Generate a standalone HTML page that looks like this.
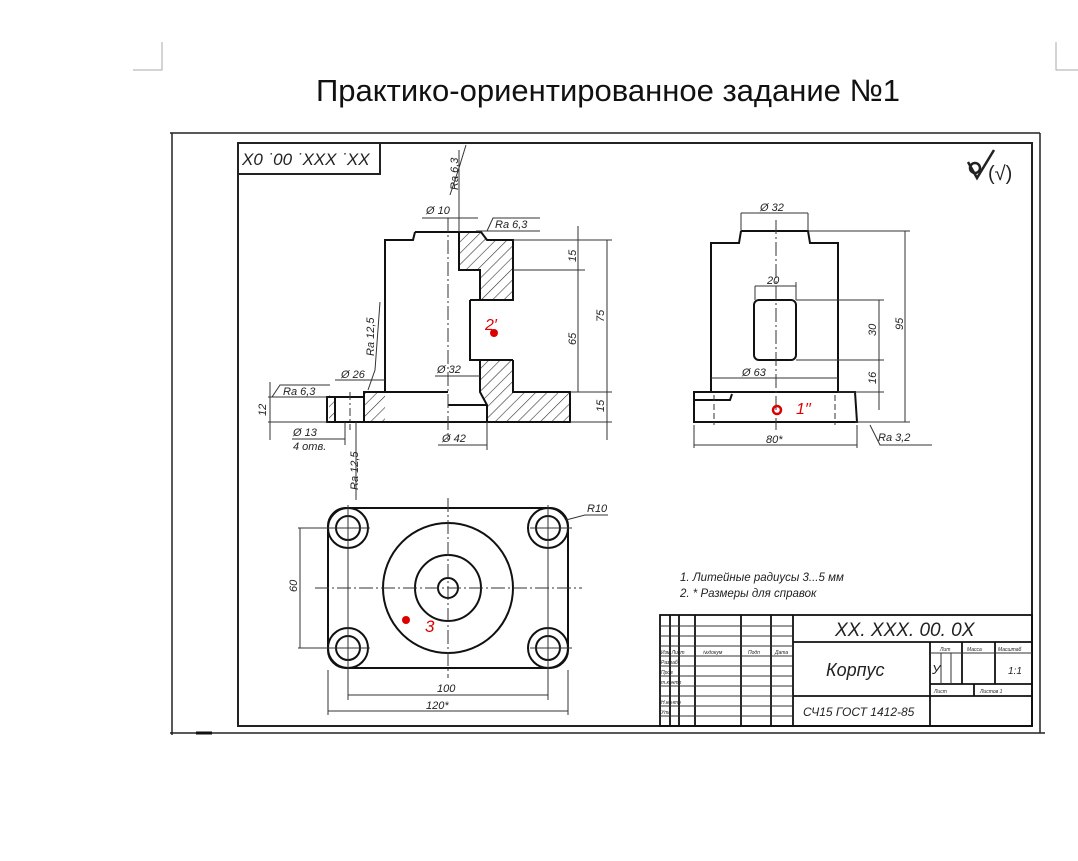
<!DOCTYPE html>
<html><head><meta charset="utf-8"><style>
html,body{margin:0;padding:0;background:#fff;}
svg{display:block;}
text{font-family:"Liberation Sans",sans-serif;font-style:italic;fill:#222;}
</style></head><body>
<svg width="1078" height="861" viewBox="0 0 1078 861" xmlns="http://www.w3.org/2000/svg">
<polyline points="133,70 162,70 162,42" fill="none" stroke="#aaa" stroke-width="1"/>
<polyline points="1056,42 1056,70 1078,70" fill="none" stroke="#aaa" stroke-width="1"/>
<text x="608" y="101" text-anchor="middle" style="font-style:normal;font-size:31px;fill:#111">Практико-ориентированное задание №1</text>

<g fill="none" stroke="#222">
<line x1="170" y1="133" x2="1040" y2="133" stroke-width="1.5"/>
<line x1="172" y1="133" x2="172" y2="735" stroke-width="1.5"/>
<line x1="170" y1="733" x2="1045" y2="733" stroke-width="1.5"/>
<line x1="1040" y1="133" x2="1040" y2="733" stroke-width="1.5"/>
<rect x="238" y="143" width="794" height="583" stroke-width="2"/>
<rect x="238" y="143" width="142" height="31" stroke-width="2"/>
</g>
<text x="242" y="165" style="font-size:17px">X0 ˙00 ˙XXX ˙XX</text>

<g fill="none" stroke="#222" stroke-width="2.5">
<circle cx="975" cy="168" r="5"/><polyline points="968,162 977,178 994,150"/>
</g>
<text x="988" y="180" style="font-size:20px;font-style:normal">(√)</text>

<defs>
<pattern id="h" width="8" height="8" patternUnits="userSpaceOnUse" patternTransform="rotate(45)">
<line x1="0" y1="0" x2="0" y2="8" stroke="#333" stroke-width="1.2"/>
</pattern>
</defs>
<g stroke="none" fill="url(#h)">
<polygon points="459,232 481,232 487,240 513,240 513,300 480,300 480,270 459,270"/>
<polygon points="480,360 513,360 513,392 570,392 570,422 487,422 487,405 480,392"/>
<polygon points="364,392 385,392 385,422 364,422"/>
<rect x="329" y="395" width="6" height="27"/>
</g>
<g fill="none" stroke="#111" stroke-width="2">
<polyline points="415,232 481,232 487,240 513,240 513,300 480,300 480,270 459,270 459,232"/>
<polyline points="415,232 413,240 385,240 385,392 364,392 364,422"/>
<polyline points="470,300 470,360 480,360 480,392 487,405 487,422"/>
<polyline points="513,360 513,392 570,392 570,422 327,422 327,397 364,397"/>
<line x1="385" y1="392" x2="448" y2="392"/>
<line x1="448" y1="405" x2="487" y2="405"/>
<line x1="470" y1="300" x2="513" y2="300"/>
<line x1="470" y1="360" x2="513" y2="360"/>
<line x1="335" y1="397" x2="335" y2="422"/>
</g>
<g stroke="#333" stroke-width="1" fill="none">
<line x1="448" y1="218" x2="448" y2="440" stroke-dasharray="14,3,2,3"/>
<line x1="350" y1="392" x2="350" y2="430" stroke-dasharray="8,3,2,3"/>
<line x1="513" y1="240" x2="612" y2="240"/><line x1="513" y1="270" x2="585" y2="270"/>
<line x1="570" y1="392" x2="612" y2="392"/><line x1="570" y1="422" x2="612" y2="422"/>
<line x1="578" y1="226" x2="578" y2="392"/><line x1="607" y1="240" x2="607" y2="440"/>
<line x1="422" y1="218" x2="478" y2="218"/><line x1="459" y1="150" x2="459" y2="232"/>
<line x1="476" y1="231" x2="540" y2="231"/>
<line x1="335" y1="380" x2="385" y2="380"/>
<line x1="435" y1="376" x2="480" y2="376"/>
<line x1="438" y1="445" x2="487" y2="445"/><line x1="487" y1="422" x2="487" y2="450"/>
<line x1="268" y1="397" x2="327" y2="397"/><line x1="268" y1="422" x2="327" y2="422"/>
<line x1="270" y1="382" x2="270" y2="440"/>
<line x1="292" y1="439" x2="345" y2="439"/><line x1="345" y1="422" x2="345" y2="445"/><line x1="356" y1="422" x2="356" y2="500"/>
<polyline points="368,390 375,370 380,302"/>
<polyline points="450,195 459,168 466,145"/>
<polyline points="487,231 493,218 540,218"/>
<polyline points="272,397 280,385 330,385"/>
</g>
<g style="font-size:11px">
<text x="426" y="214">Ø 10</text>
<text x="495" y="228">Ra 6,3</text>
<text x="283" y="395">Ra 6,3</text>
<text x="341" y="378">Ø 26</text>
<text x="437" y="373">Ø 32</text>
<text x="442" y="442">Ø 42</text>
<text x="293" y="436">Ø 13</text>
<text x="293" y="450">4 отв.</text>
<text transform="translate(458,190) rotate(-90)">Ra 6,3</text>
<text transform="translate(374,356) rotate(-90)">Ra 12,5</text>
<text transform="translate(358,490) rotate(-90)">Ra 12,5</text>
<text transform="translate(576,262) rotate(-90)">15</text>
<text transform="translate(576,345) rotate(-90)">65</text>
<text transform="translate(604,322) rotate(-90)">75</text>
<text transform="translate(604,412) rotate(-90)">15</text>
<text transform="translate(266,416) rotate(-90)">12</text>
</g>
<circle cx="494" cy="333" r="4" fill="#d00"/>
<text x="485" y="330" style="fill:#d00;font-size:16px">2′</text>

<g fill="none" stroke="#111" stroke-width="2">
<polyline points="741,231 808,231 810,243 838,243 838,392 855,392 857,422 694,422 694,392 711,392 711,243 739,243 741,231"/>
<line x1="711" y1="392" x2="838" y2="392"/>
<rect x="754" y="300" width="42" height="60" rx="5"/>
<polyline points="694,400 730,400 732,394"/>
</g>
<g stroke="#333" stroke-width="1" fill="none">
<line x1="776" y1="220" x2="776" y2="430" stroke-dasharray="14,3,2,3"/>
<line x1="714" y1="395" x2="714" y2="425" stroke-dasharray="6,3"/>
<line x1="835" y1="395" x2="835" y2="425" stroke-dasharray="6,3"/>
<line x1="741" y1="213" x2="741" y2="231"/><line x1="808" y1="213" x2="808" y2="231"/>
<line x1="741" y1="213" x2="808" y2="213"/>
<line x1="755" y1="286" x2="796" y2="286"/><line x1="755" y1="286" x2="755" y2="300"/><line x1="796" y1="282" x2="796" y2="300"/>
<line x1="808" y1="231" x2="910" y2="231"/><line x1="855" y1="422" x2="910" y2="422"/>
<line x1="905" y1="231" x2="905" y2="422"/>
<line x1="796" y1="300" x2="884" y2="300"/><line x1="796" y1="360" x2="884" y2="360"/><line x1="838" y1="392" x2="884" y2="392"/>
<line x1="879" y1="300" x2="879" y2="410"/>
<line x1="711" y1="378" x2="838" y2="378"/>
<line x1="694" y1="425" x2="694" y2="448"/><line x1="857" y1="425" x2="857" y2="448"/>
<line x1="694" y1="445" x2="857" y2="445"/>
<polyline points="870,425 880,445 932,445"/>
</g>
<g style="font-size:11px">
<text x="760" y="211">Ø 32</text>
<text x="767" y="284">20</text>
<text x="742" y="376">Ø 63</text>
<text x="766" y="443">80*</text>
<text x="878" y="441">Ra 3,2</text>
<text transform="translate(876,336) rotate(-90)">30</text>
<text transform="translate(876,384) rotate(-90)">16</text>
<text transform="translate(903,330) rotate(-90)">95</text>
</g>
<circle cx="777" cy="410" r="4" fill="none" stroke="#d00" stroke-width="2.5"/>
<text x="796" y="414" style="fill:#d00;font-size:16px">1′′</text>

<g fill="none" stroke="#111" stroke-width="2">
<rect x="328" y="508" width="240" height="160" rx="18"/>
<circle cx="348" cy="528" r="20"/><circle cx="348" cy="528" r="12"/>
<circle cx="548" cy="528" r="20"/><circle cx="548" cy="528" r="12"/>
<circle cx="348" cy="648" r="20"/><circle cx="348" cy="648" r="12"/>
<circle cx="548" cy="648" r="20"/><circle cx="548" cy="648" r="12"/>
<circle cx="448" cy="588" r="65"/><circle cx="448" cy="588" r="33"/><circle cx="448" cy="588" r="10"/>
</g>
<g stroke="#333" stroke-width="1" fill="none">
<line x1="315" y1="588" x2="582" y2="588" stroke-dasharray="14,3,2,3"/>
<line x1="448" y1="498" x2="448" y2="678" stroke-dasharray="14,3,2,3"/>
<line x1="330" y1="528" x2="370" y2="528"/><line x1="530" y1="528" x2="572" y2="528"/>
<line x1="330" y1="648" x2="370" y2="648"/><line x1="530" y1="648" x2="572" y2="648"/>
<line x1="348" y1="505" x2="348" y2="700"/><line x1="548" y1="505" x2="548" y2="700"/>
<line x1="298" y1="528" x2="330" y2="528"/><line x1="298" y1="648" x2="330" y2="648"/>
<line x1="300" y1="528" x2="300" y2="648"/>
<line x1="348" y1="695" x2="548" y2="695"/>
<line x1="328" y1="670" x2="328" y2="715"/><line x1="568" y1="670" x2="568" y2="715"/>
<line x1="328" y1="711" x2="568" y2="711"/>
<polyline points="566,520 585,515 608,515"/>
</g>
<g style="font-size:11px">
<text x="587" y="512">R10</text>
<text x="437" y="692">100</text>
<text x="426" y="709">120*</text>
<text transform="translate(297,592) rotate(-90)">60</text>
</g>
<circle cx="406" cy="620" r="4" fill="#d00"/>
<text x="425" y="632" style="fill:#d00;font-size:17px">3</text>

<text x="680" y="581" style="font-size:11.5px">1. Литейные радиусы 3...5 мм</text>
<text x="680" y="597" style="font-size:11.5px">2. * Размеры для справок</text>

<g fill="none" stroke="#111" stroke-width="1.8">
<rect x="660" y="615" width="372" height="111"/>
<line x1="793" y1="615" x2="793" y2="726"/>
<line x1="793" y1="642" x2="1032" y2="642"/>
<line x1="793" y1="696" x2="1032" y2="696"/>
<line x1="930" y1="642" x2="930" y2="726"/>
<line x1="930" y1="684" x2="1032" y2="684"/>
<line x1="962" y1="642" x2="962" y2="684"/>
<line x1="995" y1="642" x2="995" y2="684"/>
<line x1="974" y1="684" x2="974" y2="696"/>
<line x1="670" y1="615" x2="670" y2="726"/><line x1="679" y1="615" x2="679" y2="726"/>
<line x1="695" y1="615" x2="695" y2="726"/><line x1="741" y1="615" x2="741" y2="726"/>
<line x1="771" y1="615" x2="771" y2="726"/>
</g>
<g stroke="#333" stroke-width="1">
<line x1="660" y1="626" x2="793" y2="626"/><line x1="660" y1="636" x2="793" y2="636"/>
<line x1="660" y1="646" x2="793" y2="646"/><line x1="660" y1="656" x2="793" y2="656"/>
<line x1="660" y1="666" x2="793" y2="666"/><line x1="660" y1="676" x2="793" y2="676"/>
<line x1="660" y1="686" x2="793" y2="686"/><line x1="660" y1="696" x2="793" y2="696"/>
<line x1="660" y1="706" x2="793" y2="706"/><line x1="660" y1="716" x2="793" y2="716"/>
<line x1="930" y1="653" x2="1032" y2="653"/>
<line x1="941" y1="653" x2="941" y2="684"/><line x1="951" y1="653" x2="951" y2="684"/>
</g>
<g style="font-size:5px">
<text x="661" y="654">Изм Лист</text><text x="703" y="654">№докум</text><text x="748" y="654">Подп</text><text x="775" y="654">Дата</text>
<text x="661" y="664">Разраб</text><text x="661" y="674">Пров</text><text x="661" y="684">т.контр</text>
<text x="661" y="704">Н.контр</text><text x="661" y="714">Утв</text>
<text x="940" y="651">Лит</text><text x="967" y="651">Масса</text><text x="998" y="651">Масштаб</text>
<text x="934" y="693">Лист</text><text x="980" y="693">Листов 1</text>
</g>
<text x="835" y="636" style="font-size:19px">XX. XXX. 00. 0X</text>
<text x="826" y="676" style="font-size:18px">Корпус</text>
<text x="932" y="674" style="font-size:13px">У</text>
<text x="1008" y="674" style="font-size:10px">1:1</text>
<text x="803" y="716" style="font-size:12px">СЧ15 ГОСТ 1412-85</text>
<line x1="196" y1="733" x2="212" y2="733" stroke="#111" stroke-width="3"/>
</svg>
</body></html>
